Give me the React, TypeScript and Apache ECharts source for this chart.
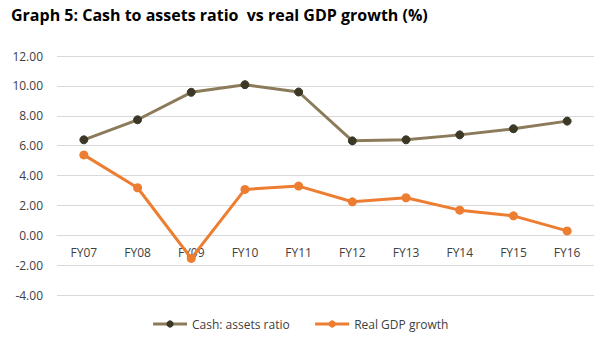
import React, { useEffect, useRef } from "react";
import * as echarts from "echarts";

const categories = ["FY07", "FY08", "FY09", "FY10", "FY11", "FY12", "FY13", "FY14", "FY15", "FY16"];
const cashAssets = [6.39, 7.73, 9.57, 10.08, 9.59, 6.32, 6.39, 6.72, 7.13, 7.64];
const gdpGrowth = [5.38, 3.18, -1.55, 3.07, 3.29, 2.24, 2.51, 1.68, 1.3, 0.29];
const seriesNames = ["Cash: assets ratio", "Real GDP growth"];
const titleText = "Graph 5: Cash to assets ratio  vs real GDP growth (%)";

export default function App() {
  const ref = useRef<HTMLDivElement>(null);
  useEffect(() => {
    document.body.style.margin = "0";
    const chart = echarts.init(ref.current!, null, { renderer: "svg" });
    const font = "'Open Sans', 'Noto Sans', sans-serif";
    chart.setOption({
      animation: false,
      backgroundColor: "#ffffff",
      title: {
        text: titleText,
        left: 6,
        top: 2,
        textStyle: { fontFamily: font, fontSize: 16, fontWeight: "bold", color: "#000" },
      },
      grid: { left: 57, right: 6, top: 56, bottom: 45, containLabel: false },
      legend: {
        bottom: 5,
        left: "center",
        itemWidth: 34,
        itemHeight: 9,
        itemGap: 24,
        lineStyle: { width: 3 },
        textStyle: { fontFamily: font, fontSize: 12, color: "#404040" },
        data: seriesNames,
      },
      xAxis: {
        type: "category",
        data: categories,
        offset: -60,
        axisLine: { onZero: false, lineStyle: { color: "#d9d9d9" } },
        axisTick: { show: false },
        axisLabel: { fontFamily: font, fontSize: 12, color: "#404040", margin: 11 },
      },
      yAxis: {
        type: "value",
        min: -4,
        max: 12,
        interval: 2,
        axisLine: { show: false },
        axisTick: { show: false },
        splitLine: { lineStyle: { color: "#d9d9d9", width: 1 } },
        axisLabel: {
          fontFamily: font,
          fontSize: 12,
          color: "#404040",
          margin: 14,
          formatter: (v: number) => v.toFixed(2),
        },
      },
      series: [
        {
          name: seriesNames[0],
          type: "line",
          data: cashAssets,
          symbol: "circle",
          symbolSize: 8,
          lineStyle: { color: "#8c7b5b", width: 3 },
          itemStyle: { color: "#3b3826", borderColor: "#3b3826" },
          color: "#8c7b5b",
        },
        {
          name: seriesNames[1],
          type: "line",
          data: gdpGrowth,
          symbol: "circle",
          symbolSize: 9,
          lineStyle: { color: "#ed7d31", width: 3 },
          itemStyle: { color: "#ed7d31" },
          color: "#ed7d31",
        },
      ],
    });
    return () => chart.dispose();
  }, []);
  return <div ref={ref} style={{ width: 600, height: 340 }} />;
}
